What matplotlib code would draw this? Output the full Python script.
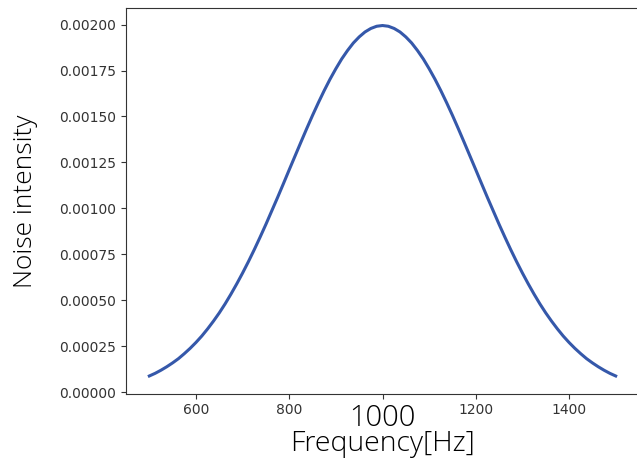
import matplotlib.pyplot as plt

# Values, every 12.5 Hz from 500 up to the peak at 1000
freq = [500 + 12.5 * i for i in range(81)]
half = [0.0000876, 0.000102, 0.000119, 0.000138, 0.000159, 0.000182, 0.000209,
        0.000238, 0.000270, 0.000305, 0.000344, 0.000386, 0.000431, 0.000480,
        0.000533, 0.000589, 0.000648, 0.000710, 0.000775, 0.000843, 0.000913,
        0.000986, 0.001059, 0.001134, 0.001210, 0.001285, 0.001360, 0.001434,
        0.001506, 0.001575, 0.001641, 0.001703, 0.001760, 0.001813, 0.001859,
        0.001900, 0.001933, 0.001960, 0.001979, 0.001991, 0.001995]
intensity = half + half[-2::-1]

xticks = [600, 800, 1000, 1200, 1400]
xtick_labels = ['600', '800', '1000', '1200', '1400']

fig = plt.figure(figsize=(6.37, 4.59), dpi=100)
ax = fig.add_axes([126 / 637, 65.5 / 459, 513 / 637, 385.5 / 459])

ax.plot(freq, intensity, color='#3558aa', linewidth=2.2)

ax.set_xticks(xticks)
ax.set_xticklabels(xtick_labels)
ax.tick_params(colors='#333333', labelsize=10)
for sp in ax.spines.values():
    sp.set_color('#333333')

# the 1000 label is drawn bigger in the original
for lab in ax.get_xticklabels():
    if lab.get_text() == '1000':
        lab.set_fontsize(21)
        lab.set_family('Open Sans')
        lab.set_fontweight('light')
        lab.set_color('black')

ax.set_xlabel('Frequency[Hz]', fontsize=20.5, family='Open Sans',
              fontweight='light', labelpad=-2)
ax.set_ylabel('Noise intensity', fontsize=19, family='Open Sans',
              fontweight='light', labelpad=15)

fig.savefig('out.png', dpi=100)
